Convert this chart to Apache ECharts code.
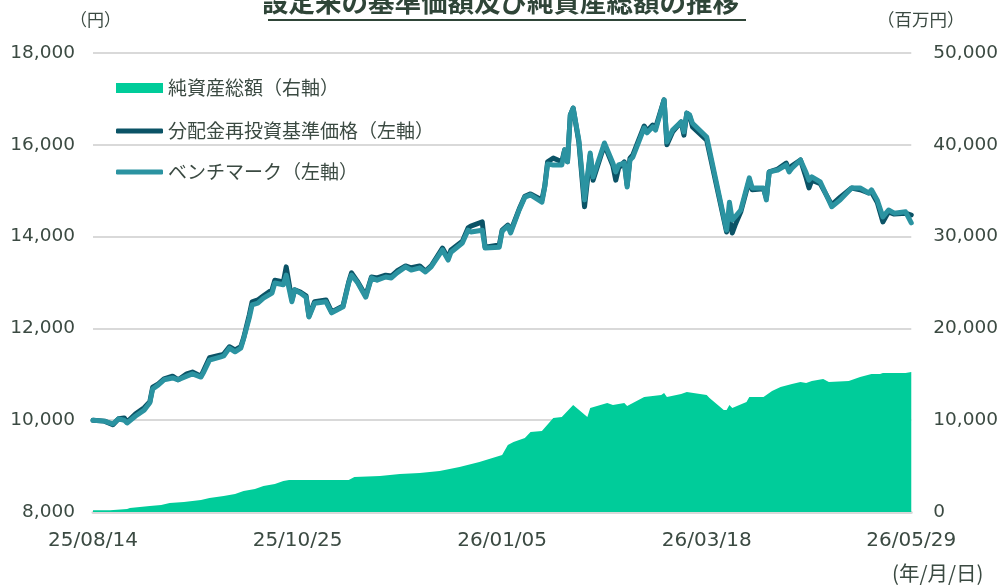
<!DOCTYPE html>
<html>
<head>
<meta charset="utf-8">
<script src="https://cdn.jsdelivr.net/npm/echarts@6/dist/echarts.min.js"></script>
<style>
    html, body { margin: 0; padding: 0; background: #fff; }
    #chart { width: 1001px; height: 588px; }
</style>
</head>
<body>
<div id="chart"></div>
<script>
// 設定日からの経過日数（25/08/14 = 0）
const startDate = new Date(2025, 7, 14)

// 基準価額・ベンチマーク
const lineDays = [0, 4, 7, 9, 11, 12, 15, 18, 20, 21, 23, 25, 28, 30, 33, 35, 38, 39, 41, 45,
    46, 48, 50, 52, 53, 55, 56, 58, 60, 63, 64, 67, 68, 70, 71, 73, 75, 76, 78, 82,
    84, 88, 90, 91, 93, 96, 98, 100, 103, 105, 107, 110, 112, 115, 117, 119, 123, 125, 126, 130,
    132, 133, 137, 138, 143, 144, 146, 147, 150, 152, 154, 158, 159, 160, 162, 165, 166, 167, 168, 169,
    171, 173, 175, 176, 180, 183, 184, 185, 187, 188, 189, 190, 194, 195, 197, 198, 201, 202, 204, 207,
    208, 209, 210, 211, 216, 223, 224, 225, 226, 228, 231, 232, 236, 237, 238, 241, 244, 245, 246, 249,
    251, 252, 253, 256, 260, 263, 267, 270, 273, 274, 276, 278, 280, 282, 286, 288]
const navValues = [10000, 9980, 9900, 10030, 10050, 9960, 10140, 10270, 10400, 10720, 10790, 10900, 10960, 10880, 11010, 11050, 10960, 11090, 11360, 11420,
    11440, 11600, 11530, 11600, 11790, 12290, 12580, 12620, 12710, 12840, 13050, 13010, 13340, 12620, 12840, 12790, 12710, 12270, 12580, 12620,
    12360, 12490, 13010, 13210, 13030, 12710, 13120, 13100, 13160, 13140, 13250, 13360, 13320, 13360, 13250, 13360, 13750, 13530, 13710, 13900,
    14190, 14230, 14320, 13770, 13820, 14140, 14250, 14120, 14600, 14880, 14930, 14800, 15100, 15630, 15710, 15630, 15890, 15630, 16650, 16800,
    16060, 14650, 15780, 15230, 16000, 15540, 15230, 15490, 15630, 15120, 15710, 15780, 16410, 16300, 16430, 16370, 16980, 16000, 16280, 16500,
    16210, 16690, 16630, 16390, 16100, 14100, 14410, 14080, 14250, 14540, 15230, 15020, 15040, 14840, 15410, 15470, 15600, 15450, 15540, 15670,
    15280, 15060, 15230, 15150, 14690, 14860, 15060, 15020, 14950, 14970, 14750, 14320, 14540, 14490, 14510, 14470]
const benchValues = [10000, 9980, 9920, 10030, 10000, 9940, 10090, 10220, 10380, 10680, 10770, 10880, 10920, 10880, 10960, 11010, 10940, 11050, 11310, 11380,
    11400, 11570, 11490, 11570, 11770, 12230, 12510, 12550, 12660, 12770, 12990, 12950, 13160, 12580, 12840, 12770, 12680, 12250, 12550, 12580,
    12340, 12470, 12990, 13160, 13010, 12680, 13100, 13050, 13120, 13100, 13210, 13340, 13270, 13320, 13230, 13340, 13710, 13490, 13660, 13860,
    14140, 14100, 14140, 13750, 13770, 14120, 14230, 14080, 14580, 14860, 14910, 14750, 15080, 15580, 15560, 15560, 15890, 15630, 16650, 16800,
    16100, 14800, 15820, 15300, 16040, 15600, 15410, 15560, 15600, 15080, 15670, 15730, 16370, 16260, 16390, 16320, 16980, 16060, 16320, 16500,
    16280, 16690, 16650, 16470, 16170, 14140, 14750, 14360, 14430, 14580, 15280, 15060, 15060, 14800, 15410, 15450, 15560, 15410, 15490, 15670,
    15390, 15230, 15300, 15190, 14650, 14800, 15060, 15060, 14950, 15020, 14800, 14430, 14580, 14510, 14540, 14300]

// 純資産総額（百万円）
const assetDays = [0, 6, 12, 13, 20, 24, 27, 32, 38, 41, 46, 50, 53, 57, 60, 64, 67, 69, 90, 92,
    101, 108, 115, 122, 129, 136, 144, 146, 148, 152, 154, 158, 162, 165, 169, 174, 175, 181, 183, 187,
    188, 190, 194, 200, 201, 202, 207, 209, 216, 217, 222, 223, 224, 225, 230, 231, 236, 239, 242, 246,
    249, 251, 253, 257, 259, 266, 270, 274, 277, 278, 286, 288]
const assetValues = [200, 200, 330, 440, 650, 760, 980, 1090, 1310, 1530, 1740, 1960, 2290, 2510, 2830, 3050, 3380, 3490, 3490, 3810,
    3920, 4140, 4250, 4470, 4900, 5450, 6210, 7300, 7630, 8060, 8710, 8820, 10240, 10350, 11660, 10350, 11330, 11870, 11660, 11870,
    11550, 11870, 12530, 12740, 12960, 12530, 12850, 13070, 12740, 12420, 11110, 11110, 11660, 11330, 11980, 12530, 12530, 13180, 13620, 13940,
    14160, 14050, 14270, 14490, 14160, 14270, 14710, 15030, 15030, 15140, 15140, 15250]

const textColor = '#3b4a42'
const fontJP = '"Noto Sans CJK JP", sans-serif'
const fontNum = '"DejaVu Sans", sans-serif'

function pad2 (n) {
    return (n < 10 ? '0' : '') + n
}
function dayLabel (d) {
    const dt = new Date(startDate.getTime())
    dt.setDate(dt.getDate() + Math.round(d))
    return pad2(dt.getFullYear() % 100) + '/' + pad2(dt.getMonth() + 1) + '/' + pad2(dt.getDate())
}
function zip (xs, ys) {
    return xs.map((x, i) => [x, ys[i]])
}

const legendText = { color: textColor, fontFamily: fontJP, fontSize: 19, lineHeight: 20 }

const chart = echarts.init(document.getElementById('chart'))
chart.setOption({
    animation: false,
    grid: { left: 93, right: 88, top: 53, bottom: 76 },
    legend: [
        {
            left: 111,
            top: 73,
            itemWidth: 47,
            itemHeight: 10,
            icon: 'rect',
            textStyle: legendText,
            data: ['純資産総額（右軸）']
        },
        {
            orient: 'vertical',
            left: 111,
            top: 116,
            itemWidth: 47,
            itemHeight: 5,
            itemGap: 21,
            icon: 'roundRect',
            textStyle: legendText,
            data: ['分配金再投資基準価格（左軸）', 'ベンチマーク（左軸）']
        }
    ],
    graphic: [
        {
            type: 'text',
            left: 'center',
            top: -11,
            style: {
                text: '設定来の基準価額及び純資産総額の推移',
                font: 'bold 26.5px ' + fontJP,
                fill: '#2f4538'
            }
        },
        {
            type: 'rect',
            shape: { x: 268, y: 19, width: 478, height: 2 },
            style: { fill: '#2f4538' }
        },
        {
            type: 'text', left: 70, top: 11,
            style: { text: '（円）', font: '17px ' + fontJP, fill: textColor }
        },
        {
            type: 'text', left: 877, top: 11,
            style: { text: '（百万円）', font: '17.5px ' + fontJP, fill: textColor }
        },
        {
            type: 'text', left: 892, top: 563,
            style: { text: '(年/月/日)', font: '20.5px ' + fontJP, fill: textColor }
        }
    ],
    xAxis: {
        type: 'value',
        min: 0,
        max: 288,
        interval: 72,
        axisLine: { show: true, lineStyle: { color: '#d9d9d9', width: 3 } },
        axisTick: { show: false },
        splitLine: { show: false },
        axisLabel: {
            color: textColor,
            fontFamily: fontNum,
            fontSize: 20,
            margin: 19,
            formatter: v => dayLabel(v)
        }
    },
    yAxis: [
        {
            type: 'value',
            min: 8000,
            max: 18000,
            interval: 2000,
            axisLine: { show: false },
            axisTick: { show: false },
            splitLine: { lineStyle: { color: '#d9d9d9', width: 2 } },
            axisLabel: {
                color: textColor,
                fontFamily: fontNum,
                fontSize: 18.5,
                margin: 18,
                formatter: v => v.toLocaleString('en-US')
            }
        },
        {
            type: 'value',
            min: 0,
            max: 50000,
            interval: 10000,
            axisLine: { show: false },
            axisTick: { show: false },
            splitLine: { show: false },
            axisLabel: {
                color: textColor,
                fontFamily: fontNum,
                fontSize: 18.5,
                margin: 22,
                formatter: v => v.toLocaleString('en-US')
            }
        }
    ],
    series: [
        {
            name: '純資産総額（右軸）',
            type: 'line',
            yAxisIndex: 1,
            symbol: 'none',
            data: zip(assetDays, assetValues),
            lineStyle: { width: 0 },
            itemStyle: { color: '#00cc9a' },
            areaStyle: { color: '#00cc9a', opacity: 1 }
        },
        {
            name: '分配金再投資基準価格（左軸）',
            type: 'line',
            yAxisIndex: 0,
            symbol: 'none',
            data: zip(lineDays, navValues),
            itemStyle: { color: '#0b5366' },
            lineStyle: { color: '#0b5366', width: 5, cap: 'round', join: 'round' }
        },
        {
            name: 'ベンチマーク（左軸）',
            type: 'line',
            yAxisIndex: 0,
            symbol: 'none',
            data: zip(lineDays, benchValues),
            itemStyle: { color: '#2b93a1' },
            lineStyle: { color: '#2b93a1', width: 5, cap: 'round', join: 'round' }
        }
    ]
})
</script>
</body>
</html>
